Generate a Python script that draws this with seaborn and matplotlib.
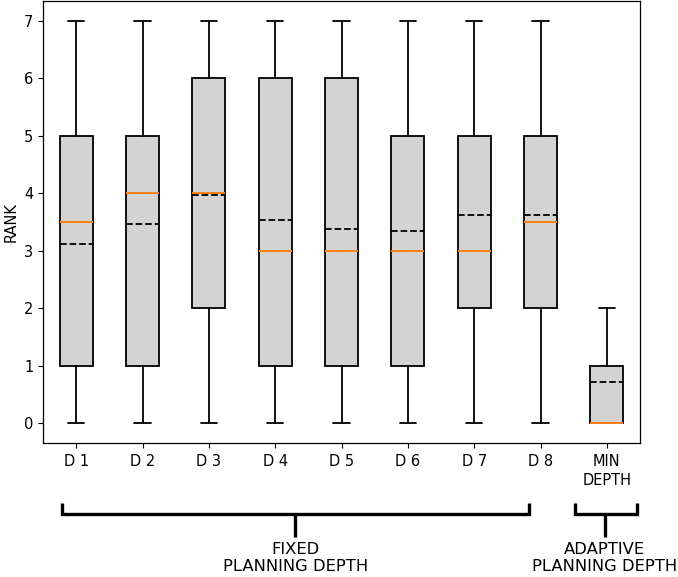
import matplotlib
matplotlib.use("Agg")
import matplotlib.pyplot as plt
import matplotlib.transforms as mtransforms
import seaborn as sns

# ---- data ----
categories = ["D 1", "D 2", "D 3", "D 4", "D 5", "D 6", "D 7", "D 8", "MIN\nDEPTH"]
whisker_low = [0, 0, 0, 0, 0, 0, 0, 0, 0]
q1 = [1, 1, 2, 1, 1, 1, 2, 2, 0]
medians = [3.5, 4, 4, 3, 3, 3, 3, 3.5, 0]
q3 = [5, 5, 6, 6, 6, 5, 5, 5, 1]
whisker_high = [7, 7, 7, 7, 7, 7, 7, 7, 2]
means = [3.12, 3.46, 3.97, 3.53, 3.37, 3.35, 3.62, 3.62, 0.72]
group_labels = ["FIXED\nPLANNING DEPTH", "ADAPTIVE\nPLANNING DEPTH"]

sns.set_style("ticks", {"axes.edgecolor": "black", "xtick.color": "black",
                        "ytick.color": "black", "text.color": "black",
                        "axes.labelcolor": "black"})
plt.rcParams["font.family"] = ["DejaVu Sans"]

fig = plt.figure(figsize=(6.78, 5.77), dpi=100)
W, H = 678, 577
ax = fig.add_axes([43 / W, 1 - 443 / H, (640 - 43) / W, 442 / H])

stats = []
for i, lab in enumerate(categories):
    stats.append(dict(label=lab, whislo=whisker_low[i], q1=q1[i], med=medians[i],
                      q3=q3[i], whishi=whisker_high[i], mean=means[i], fliers=[]))

ax.bxp(stats, positions=range(1, len(categories) + 1), widths=0.5,
       showmeans=True, meanline=True, patch_artist=True, showfliers=False,
       boxprops=dict(facecolor="lightgrey", edgecolor="black", linewidth=1.3),
       whiskerprops=dict(color="black", linewidth=1.3),
       capprops=dict(color="black", linewidth=1.3),
       medianprops=dict(color="#ff7f0e", linewidth=1.4),
       meanprops=dict(color="black", linestyle="--", linewidth=1.3))

ax.set_xlim(0.5, len(categories) + 0.5)
ax.set_ylim(-0.35, 7.35)
ax.set_yticks(range(0, 8))
ax.tick_params(labelsize=10.5, length=3.5, width=0.8)
ax.tick_params(axis="x", pad=4.5)
for t in ax.get_xticklabels():
    t.set_linespacing(1.35)
ax.set_ylabel("RANK", fontsize=10.5, labelpad=4)
for s in ax.spines.values():
    s.set_linewidth(0.9)

# brackets grouping the categories
trans = mtransforms.blended_transform_factory(ax.transData, fig.transFigure)
y_bar = 1 - 514 / H
y_tip = 1 - 503 / H
y_stem = 1 - 537 / H
y_text = 1 - 542 / H
brackets = [(0.79, 7.82, 4.3), (8.52, 9.45, 8.97)]
for (x0, x1, xc), lab in zip(brackets, group_labels):
    ax.plot([x0, x0, x1, x1], [y_tip, y_bar, y_bar, y_tip], color="black",
            lw=2.4, transform=trans, clip_on=False, solid_capstyle="butt",
            solid_joinstyle="miter")
    ax.plot([xc, xc], [y_bar, y_stem], color="black", lw=2.4,
            transform=trans, clip_on=False, solid_capstyle="butt")
    ax.text(xc, y_text, lab, ha="center", va="top", fontsize=11.8,
            linespacing=1.15, transform=trans)

fig.savefig("out.png", dpi=100)
